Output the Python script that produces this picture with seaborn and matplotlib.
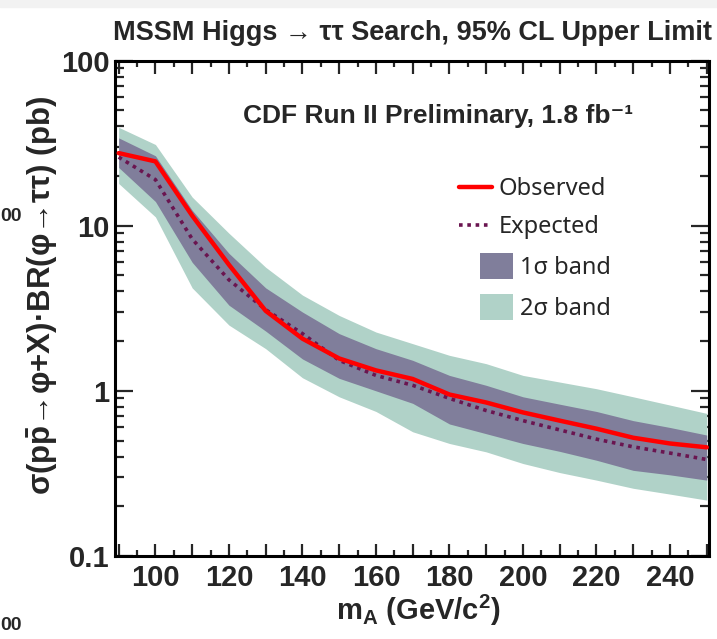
import numpy as np
import pandas as pd
import matplotlib
matplotlib.use('Agg')
import matplotlib.pyplot as plt
import seaborn as sns
from matplotlib import font_manager
from matplotlib.patches import Patch, Rectangle
from matplotlib.lines import Line2D
from matplotlib.ticker import MultipleLocator, FuncFormatter, LogLocator, NullFormatter

# ---- data ----
mass = [90, 100, 110, 120, 130, 140, 150, 160, 170, 180, 190, 200, 210, 220, 230, 240, 250]
observed = [27.5, 24.5, 11.5, 5.8, 3.05, 2.07, 1.57, 1.33, 1.18, 0.95, 0.85, 0.74, 0.66, 0.59, 0.52, 0.48, 0.455]
expected = [26.0, 19.0, 8.3, 4.7, 3.1, 2.22, 1.53, 1.24, 1.08, 0.90, 0.76, 0.66, 0.58, 0.51, 0.458, 0.42, 0.384]
band1_lo = [22.5, 14.0, 6.0, 3.3, 2.3, 1.56, 1.19, 1.0, 0.84, 0.63, 0.55, 0.48, 0.43, 0.38, 0.33, 0.31, 0.288]
band1_hi = [34.0, 26.5, 12.4, 6.8, 4.2, 3.0, 2.22, 1.80, 1.53, 1.24, 1.08, 0.92, 0.83, 0.75, 0.66, 0.60, 0.54]
band2_lo = [18.0, 11.3, 4.2, 2.5, 1.8, 1.2, 0.92, 0.75, 0.565, 0.48, 0.427, 0.363, 0.32, 0.288, 0.257, 0.237, 0.218]
band2_hi = [39.4, 31.0, 14.9, 9.0, 5.6, 3.8, 2.86, 2.27, 1.93, 1.64, 1.46, 1.24, 1.13, 1.03, 0.92, 0.82, 0.73]
legend_labels = ['Observed', 'Expected', '1σ band', '2σ band']

sns.set_style('ticks')
names = {f.name for f in font_manager.fontManager.ttflist}
narrow = 'Liberation Sans Narrow' if 'Liberation Sans Narrow' in names else 'Liberation Sans'
plt.rcParams['font.family'] = [narrow, 'DejaVu Sans']
plt.rcParams['font.weight'] = 'bold'
plt.rcParams['axes.labelweight'] = 'bold'
plt.rcParams['mathtext.fontset'] = 'custom'
plt.rcParams['mathtext.rm'] = narrow + ':bold'
plt.rcParams['mathtext.bf'] = narrow + ':bold'
plt.rcParams['mathtext.it'] = narrow + ':bold'
plt.rcParams['mathtext.sf'] = narrow + ':bold'

C_RED = '#ff0000'
C_EXP = '#6a1550'
C_1S = '#807e9b'
C_2S = '#b0d2c8'

fig = plt.figure(figsize=(7.17, 6.39), dpi=100)
fig.patches.append(Rectangle((0, 1 - 7 / 639), 1, 7 / 639, transform=fig.transFigure,
                             color='#f2f2f2', zorder=0))
ax = fig.add_axes([115 / 717, 1 - 556 / 639, (709.3 - 115) / 717, (556 - 60.5) / 639])

df = pd.DataFrame({'mass': mass, 'observed': observed, 'expected': expected})
ax.fill_between(mass, band2_lo, band2_hi, color=C_2S, lw=0, zorder=1)
ax.fill_between(mass, band1_lo, band1_hi, color=C_1S, lw=0, zorder=2)
sns.lineplot(data=df, x='mass', y='expected', ax=ax, color=C_EXP, lw=2.6,
             linestyle=(0, (1, 1.3)), zorder=3)
sns.lineplot(data=df, x='mass', y='observed', ax=ax, color=C_RED, lw=3.2, zorder=4)

ax.set_yscale('log')
ax.set_xlim(89, 250.7)
ax.set_ylim(0.1, 100)

ax.xaxis.set_major_locator(MultipleLocator(10))
ax.xaxis.set_minor_locator(MultipleLocator(5))
ax.xaxis.set_major_formatter(FuncFormatter(lambda v, p: f'{int(round(v))}' if round(v) % 20 == 0 else ''))
ax.yaxis.set_major_locator(LogLocator(base=10, numticks=10))
ax.yaxis.set_minor_locator(LogLocator(base=10, subs=np.arange(2, 10), numticks=20))
ax.yaxis.set_minor_formatter(NullFormatter())
ax.yaxis.set_major_formatter(FuncFormatter(lambda v, p: {0.1: '0.1', 1: '1', 10: '10', 100: '100'}.get(round(v, 3), '')))

ax.tick_params(axis='x', which='major', direction='in', length=9, width=1.6, top=True,
               labelsize=21, pad=6)
ax.tick_params(axis='x', which='minor', direction='in', length=4.5, width=1.6, top=True)
ax.tick_params(axis='y', which='major', direction='in', length=13, width=1.6, right=True,
               labelsize=21, pad=4)
ax.tick_params(axis='y', which='minor', direction='in', length=6.5, width=1.6, right=True)
for s in ax.spines.values():
    s.set_linewidth(2.2)
    s.set_color('black')

ax.set_xlabel(r'm$_{\rm A}$ (GeV/c$^{\rm 2}$)', fontsize=21, labelpad=1, fontweight='bold')
ax.xaxis.set_label_coords(0.51, -0.075)
ax.set_ylabel(r'σ(p$\bar{\rm p}$→φ+X)·BR(φ→ττ) (pb)', fontsize=22.5, fontweight='bold',
              family=['Liberation Sans', 'DejaVu Sans'])
ax.yaxis.set_label_coords(-0.092, 0.526)

fig.text(712 / 717, 1 - 40 / 639, 'MSSM Higgs → ττ Search, 95% CL Upper Limit',
         ha='right', va='baseline', fontsize=19.5)
fig.text(243 / 717, 1 - 123 / 639, 'CDF Run II Preliminary, 1.8 fb⁻¹',
         ha='left', va='baseline', fontsize=19, family=['Liberation Sans', 'DejaVu Sans'])

# fragments of a neighbouring figure visible at the left edge
fig.text(0 / 717, 1 - 221 / 639, '00', ha='left', va='baseline', fontsize=14)
fig.text(0 / 717, 1 - 630 / 639, '00', ha='left', va='baseline', fontsize=14)

leg_font = {'family': ['Noto Sans', 'DejaVu Sans'], 'weight': 'normal', 'size': 17}
h_lines = [Line2D([], [], color=C_RED, lw=3.2),
           Line2D([], [], color=C_EXP, lw=2.6, linestyle=(0, (1, 1.3)))]
leg1 = ax.legend(h_lines, legend_labels[:2], loc='upper left',
                 bbox_to_anchor=((459 - 115) / 595, (556 - 177) / 495.5),
                 frameon=False, prop=leg_font, handlelength=1.4, handletextpad=0.3,
                 labelspacing=0.6, borderaxespad=0, borderpad=0)
ax.add_artist(leg1)
h_patches = [Patch(facecolor=C_1S, edgecolor='none'), Patch(facecolor=C_2S, edgecolor='none')]
ax.legend(h_patches, legend_labels[2:], loc='upper left',
          bbox_to_anchor=((480 - 115) / 595, (556 - 253) / 495.5),
          frameon=False, prop=leg_font, handlelength=1.4, handleheight=1.3,
          handletextpad=0.3, labelspacing=0.6, borderaxespad=0, borderpad=0)

fig.savefig('out.png', dpi=100)
